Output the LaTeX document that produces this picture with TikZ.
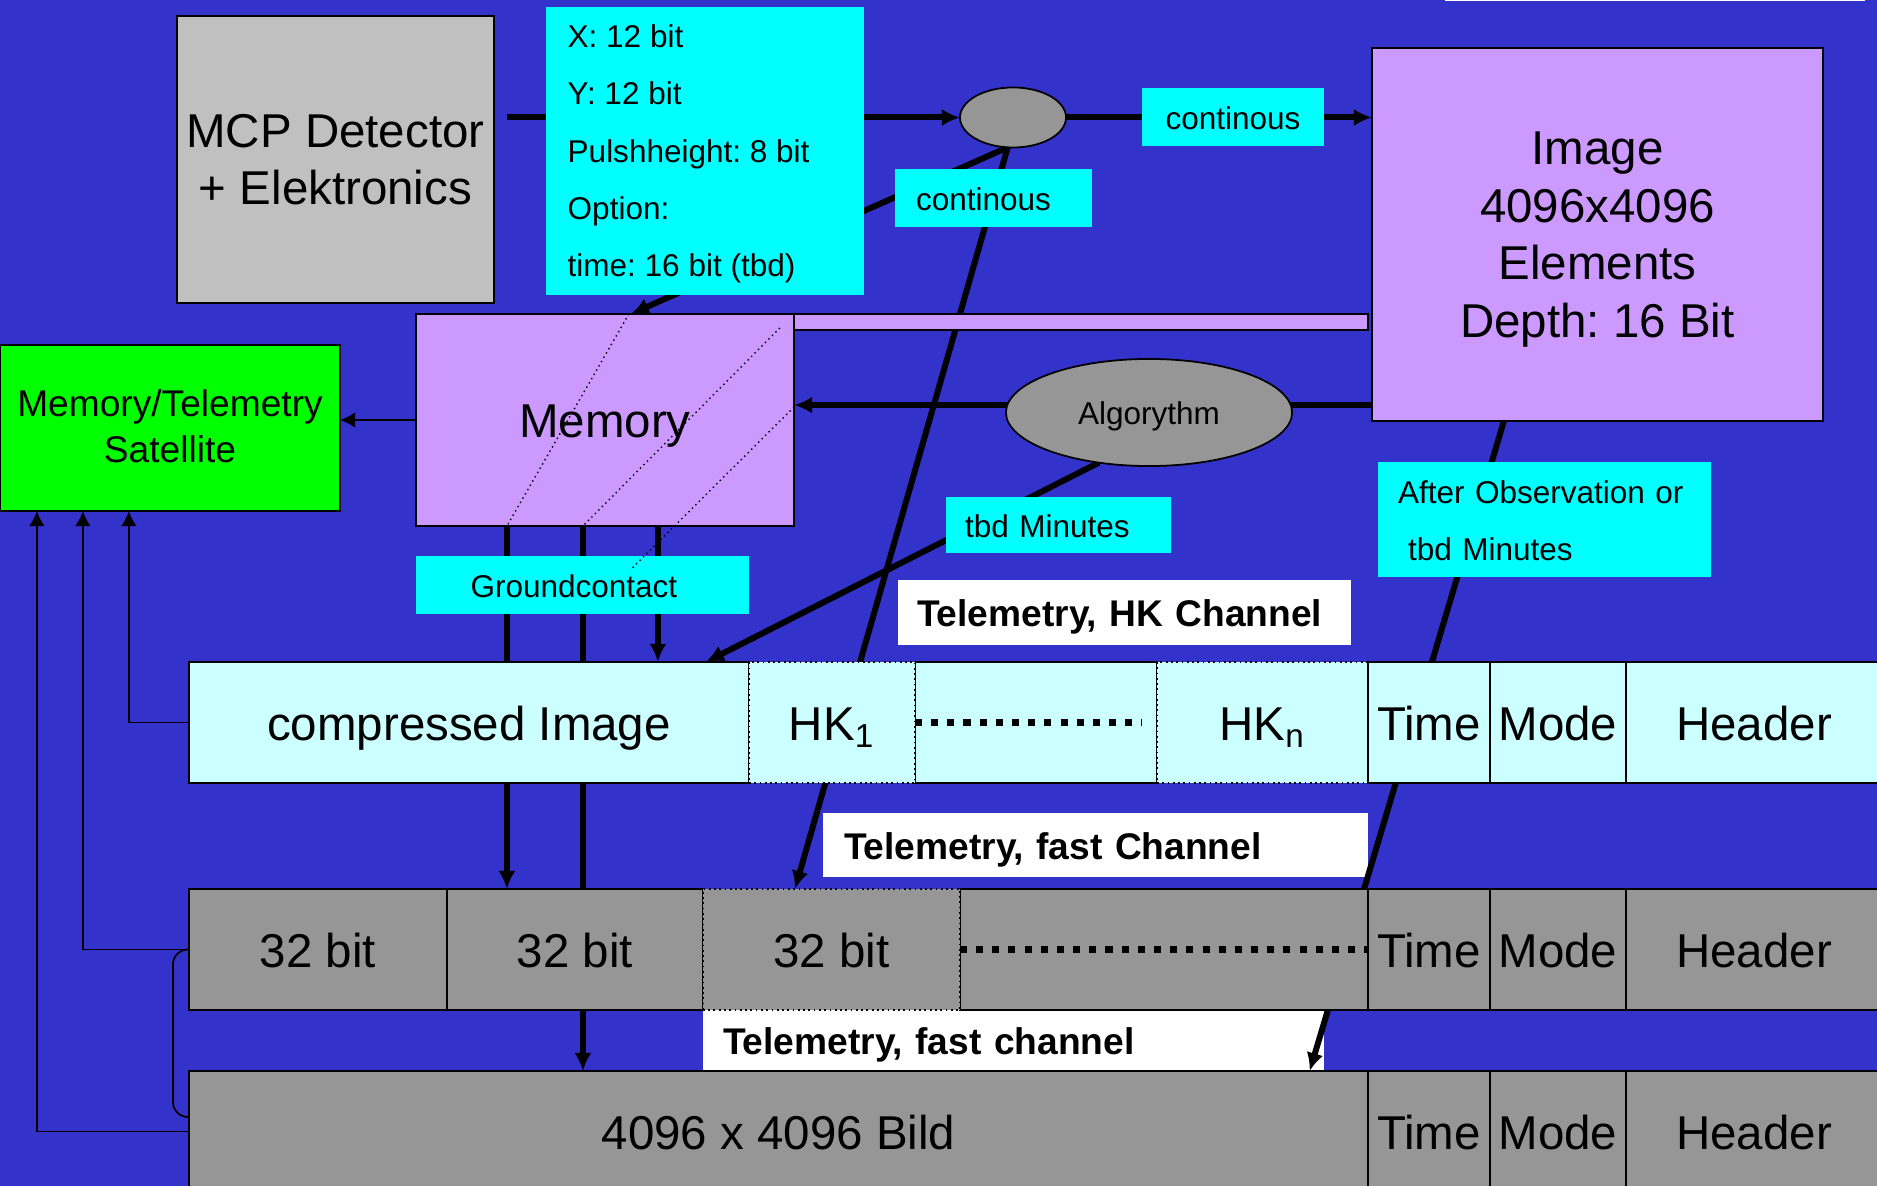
\documentclass[tikz,border=0pt]{standalone}
\usepackage{fontspec}
\setmainfont{Liberation Sans}
\usetikzlibrary{shapes.geometric,arrows.meta,calc}
\frenchspacing

\definecolor{bgblue}{RGB}{51,51,204}
\definecolor{mcpgray}{RGB}{192,192,192}
\definecolor{tagcyan}{RGB}{0,255,255}
\definecolor{lav}{RGB}{204,153,255}
\definecolor{midgray}{RGB}{150,150,150}
\definecolor{satgreen}{RGB}{0,255,0}
\definecolor{lcyan}{RGB}{204,255,255}

\newcommand\bigtxt{\fontsize{13.5pt}{16.36pt}\selectfont}
\newcommand\smalltxt{\fontsize{8.96pt}{16.33pt}\selectfont}
\newcommand\midtxt{\fontsize{10.56pt}{13pt}\selectfont}

\pgfdeclarelayer{back}
\pgfdeclarelayer{lines}
\pgfsetlayers{back,lines,main}

\tikzstyle{box}    = [draw, line width=0.5pt, inner sep=0pt, outer sep=0pt, align=center]
\tikzstyle{tag}    = [fill=tagcyan, inner sep=0pt, outer sep=0pt, font=\smalltxt, text height=8.8pt, text depth=1.8pt]
\tikzstyle{cell}   = [box, minimum height=1.21cm, font=\bigtxt, text height=12.7pt, text depth=2.7pt]
\tikzstyle{dcell}  = [cell, densely dotted]
\tikzstyle{flag}   = [fill=white, inner sep=0pt, outer sep=0pt, align=left, font=\midtxt\bfseries, text height=10pt, text depth=2pt]
\tikzstyle{con}    = [line width=1.7pt]
\tikzstyle{arr}    = [con, -{Latex[length=0.18cm,width=0.17cm]}]
\tikzstyle{tarr}   = [line width=0.5pt, -{Latex[length=0.15cm,width=0.155cm]}]
\tikzstyle{dotrow} = [line width=1.9pt, dash pattern=on 2pt off 2.6pt]
\tikzstyle{hatch}  = [line width=0.4pt, densely dotted]

\begin{document}
\begin{tikzpicture}[x=0.01cm, y=-0.01cm]
  \useasboundingbox (0,0) rectangle (1877,1186);
  \begin{pgfonlayer}{back}
    \fill[bgblue] (0,0) rectangle (1877,1186);
    \fill[white] (1445,0) rectangle (1865,1.5);
  \end{pgfonlayer}

  % detector, event word, merge point
  \node[box, fill=mcpgray, minimum width=3.17cm, minimum height=2.87cm, font=\bigtxt] (mcp) at (335.5,159.5) {MCP Detector\\+ Elektronics};
  \node[tag, minimum width=3.18cm, minimum height=2.88cm] (info) at (705,151) {};
  \foreach \t [count=\i] in {X: 12 bit, Y: 12 bit, Pulshheight: 8 bit, Option:, time: 16 bit (tbd)}
    \node[anchor=base west, inner sep=0pt, font=\smalltxt] (info\i) at (567,{47.5+57.3*(\i-1)}) {\t};
  \node[box, ellipse, fill=midgray, minimum width=1.06cm, minimum height=0.6cm] (merge) at (1013,117.5) {};
  \node[tag, minimum width=1.82cm, minimum height=0.585cm] (cont1) at (1233,117) {continous};
  \node[tag, anchor=west, inner xsep=0.21cm, text width=1.55cm, align=left, minimum height=0.58cm] (cont2) at (895,198) {continous};

  % image, memory, algorithm
  \node[box, fill=lav, minimum width=4.51cm, minimum height=3.73cm, font=\bigtxt, text depth=0pt] (img) at (1597.5,234.5) {Image\\4096x4096\\Elements\\Depth: 16 Bit};
  \node[box, fill=lav, minimum width=5.74cm, minimum height=0.16cm] (bar) at (1081,322) {};
  \node[box, fill=lav, minimum width=3.78cm, minimum height=2.12cm, font=\bigtxt, text height=12.7pt, text depth=2.7pt] (mem) at (605,420) {Memory};
  \node[box, ellipse, fill=midgray, minimum width=2.86cm, minimum height=1.07cm, font=\smalltxt, text height=8.8pt, text depth=1.8pt] (alg) at (1149,412.5) {Algorythm};
  \node[tag, anchor=west, inner xsep=0.19cm, text width=1.87cm, align=left, minimum height=0.56cm] (tbd) at (946,525) {tbd Minutes};
  \node[tag, anchor=west, inner xsep=0.2cm, text width=2.93cm, align=left, minimum height=1.15cm, text depth=18.1pt] (after) at (1378,519.5) {After Observation or\\\hspace*{0.1cm}tbd Minutes};
  \node[box, fill=satgreen, minimum width=3.4cm, minimum height=1.66cm, font=\midtxt, text depth=1pt] (green) at (170,428) {Memory/Telemetry\\Satellite};
  \node[tag, anchor=west, inner xsep=0.545cm, text width=2.24cm, align=left, minimum height=0.575cm] (ground) at (416,585) {Groundcontact};
  \node[flag, anchor=west, inner xsep=0.19cm, text width=4.15cm, minimum height=0.65cm] (hkt) at (898,612.5) {Telemetry, HK Channel};

  % HK telemetry row
  \node[cell, fill=lcyan, minimum width=5.6cm] (cimg) at (469,722.5) {compressed Image};
  \node[cell, fill=lcyan, minimum width=2.42cm] (hkd) at (1036,722.5) {};
  \node[dcell, fill=lcyan, minimum width=1.66cm] (hk1) at (832,722.5) {HK\textsubscript{1}};
  \node[dcell, fill=lcyan, minimum width=2.11cm] (hkn) at (1262.5,722.5) {HK\textsubscript{n}};
  % fast row
  \node[cell, fill=midgray, minimum width=2.58cm] (b1) at (318,949.5) {32 bit};
  \node[cell, fill=midgray, minimum width=2.56cm] (b2) at (575,949.5) {32 bit};
  \node[cell, fill=midgray, minimum width=4.08cm] (bd) at (1164,949.5) {};
  \node[dcell, fill=midgray, minimum width=2.57cm] (b3) at (831.5,949.5) {32 bit};
  % full image row
  \node[cell, fill=midgray, minimum width=11.79cm] (bild) at (778.5,1131.5) {4096 x 4096 Bild};
  \foreach \r/\y/\c in {1/722.5/lcyan, 2/949.5/midgray, 3/1131.5/midgray} {
    \node[cell, fill=\c, minimum width=1.22cm] (time\r) at (1429,\y) {Time};
    \node[cell, fill=\c, minimum width=1.36cm] (mode\r) at (1558,\y) {Mode};
    \node[cell, fill=\c, minimum width=2.56cm] (head\r) at (1754,\y) {Header};
  }
  \draw[dotrow] (hkd.west) -- ($(hkd.east)+(-15,0)$);
  \draw[dotrow] (bd.west) -- (bd.east);

  \draw[hatch] ($(mem.north west)+(213,0)$) -- ($(mem.south west)+(91,0)$);
  \draw[hatch] ($(mem.north west)+(364,14)$) -- ($(mem.south west)+(167,0)$);
  \draw[hatch] ($(mem.north east)+(0,93)$) -- ($(ground.north west)+(214,14)$);

  \begin{pgfonlayer}{lines}
    \draw[arr] ($(mcp.east |- merge.west)+(13,0)$) -- (merge.west);
    \draw[arr] (merge.east) -- (merge.east -| img.west);
    \draw[arr] (merge.260) -- ($(mem.north west)+(215,0)$);
    \draw[arr] (merge.260) -- ($(b3.north west)+(92,0)$);
    \coordinate (tap) at ($(img.south west)+(0,-16)$);
    \draw[arr] (tap) -- (tap -| mem.east);
    \draw[arr] (alg.225) -- ($(cimg.north west)+(517,0)$);
    \foreach \dx/\tgt in {91/b2, 167/bild, 242/cimg}
      \draw[arr] ($(mem.south west)+(\dx,0)$) coordinate (drop\dx) -- (drop\dx |- \tgt.north);
    \draw[tarr] (mem.west) -- (mem.west -| green.east);
    \foreach \src/\dx in {cimg/129, b1/83, bild/37}
      \draw[tarr] (\src.west) -| ($(green.south west)+(\dx,0)$);
    \draw[line width=0.5pt, rounded corners=0.15cm] (b1.west) -- ++(-16,0) |- ($(bild.north west)+(0,46)$);
    \node[flag, anchor=west, inner xsep=0.21cm, text width=5.03cm, minimum height=0.64cm] (ft1) at (823,845) {Telemetry, fast Channel};
    \node[flag, anchor=west, inner xsep=0.2cm, text width=5.81cm, minimum height=0.59cm] (ft2) at (703,1040) {Telemetry, fast channel};
    \draw[arr] ($(img.south west)+(132,0)$) -- ($(bild.north west)+(1121,0)$);
  \end{pgfonlayer}
\end{tikzpicture}
\end{document}
